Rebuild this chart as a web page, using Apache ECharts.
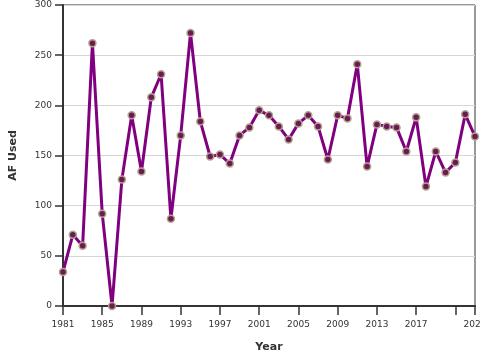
<!DOCTYPE html>
<html>
<head>
<meta charset="utf-8">
<script src="https://cdn.jsdelivr.net/npm/echarts@6/dist/echarts.min.js"></script>
<style>html,body{margin:0;padding:0;background:#fff}#c{width:480px;height:360px}</style>
</head>
<body>
<div id="c"></div>
<script>
var years = [1981,1982,1983,1984,1985,1986,1987,1988,1989,1990,1991,1992,1993,1994,1995,1996,1997,1998,1999,2000,2001,2002,2003,2004,2005,2006,2007,2008,2009,2010,2011,2012,2013,2014,2015,2016,2017,2018,2019,2020,2021,2022,2023];
var afUsed = [34,71,60,262,92,0,126,190,134,208,231,87,170,272,184,149,151,142,170,178,195,190,179,166,182,190,179,146,190,187,241,139,181,179,178,154,188,119,154,133,143,191,169];
var xTickHidden = [2021];

var chart = echarts.init(document.getElementById('c'), null, {renderer: 'canvas'});
var font = 'DejaVu Sans';
chart.setOption({
  animation: false,
  grid: {left: 63, right: 5, top: 5, bottom: 54, show: true, borderColor: '#333', borderWidth: 1, backgroundColor: '#fff', containLabel: false, outerBoundsMode: 'none'},
  xAxis: {
    type: 'value', min: 1981, max: 2023, interval: 4,
    name: 'Year', nameLocation: 'middle', nameGap: 36,
    nameTextStyle: {fontFamily: font, fontWeight: 'bold', fontSize: 11, color: '#333'},
    axisLine: {show: true, onZero: false, lineStyle: {color: '#333', width: 2}},
    axisTick: {show: true, length: 9, lineStyle: {color: '#333', width: 1.5}},
    axisLabel: {fontFamily: font, fontSize: 9, color: '#333', margin: 14, showMaxLabel: true, showMinLabel: true, hideOverlap: false,
      formatter: function(v){ return xTickHidden.indexOf(v) >= 0 ? '' : String(v); }},
    splitLine: {show: false}
  },
  yAxis: {
    type: 'value', min: 0, max: 300, interval: 50,
    name: 'AF Used', nameLocation: 'middle', nameGap: 44,
    nameTextStyle: {fontFamily: font, fontWeight: 'bold', fontSize: 11, color: '#333'},
    axisLine: {show: true, lineStyle: {color: '#333', width: 2}},
    axisTick: {show: true, length: 8, lineStyle: {color: '#333', width: 1.5}},
    axisLabel: {fontFamily: font, fontSize: 9, color: '#333', margin: 11},
    splitLine: {show: true, lineStyle: {color: '#d6d6d6', width: 1}}
  },
  series: [{
    type: 'line',
    data: years.map(function(y, i){ return [y, afUsed[i]]; }),
    clip: false,
    lineStyle: {color: '#800080', width: 3},
    symbol: 'circle', symbolSize: 7,
    itemStyle: {color: '#6a1b55', borderColor: '#b3a38a', borderWidth: 1.5},
    z: 5
  }]
});
</script>
</body>
</html>
